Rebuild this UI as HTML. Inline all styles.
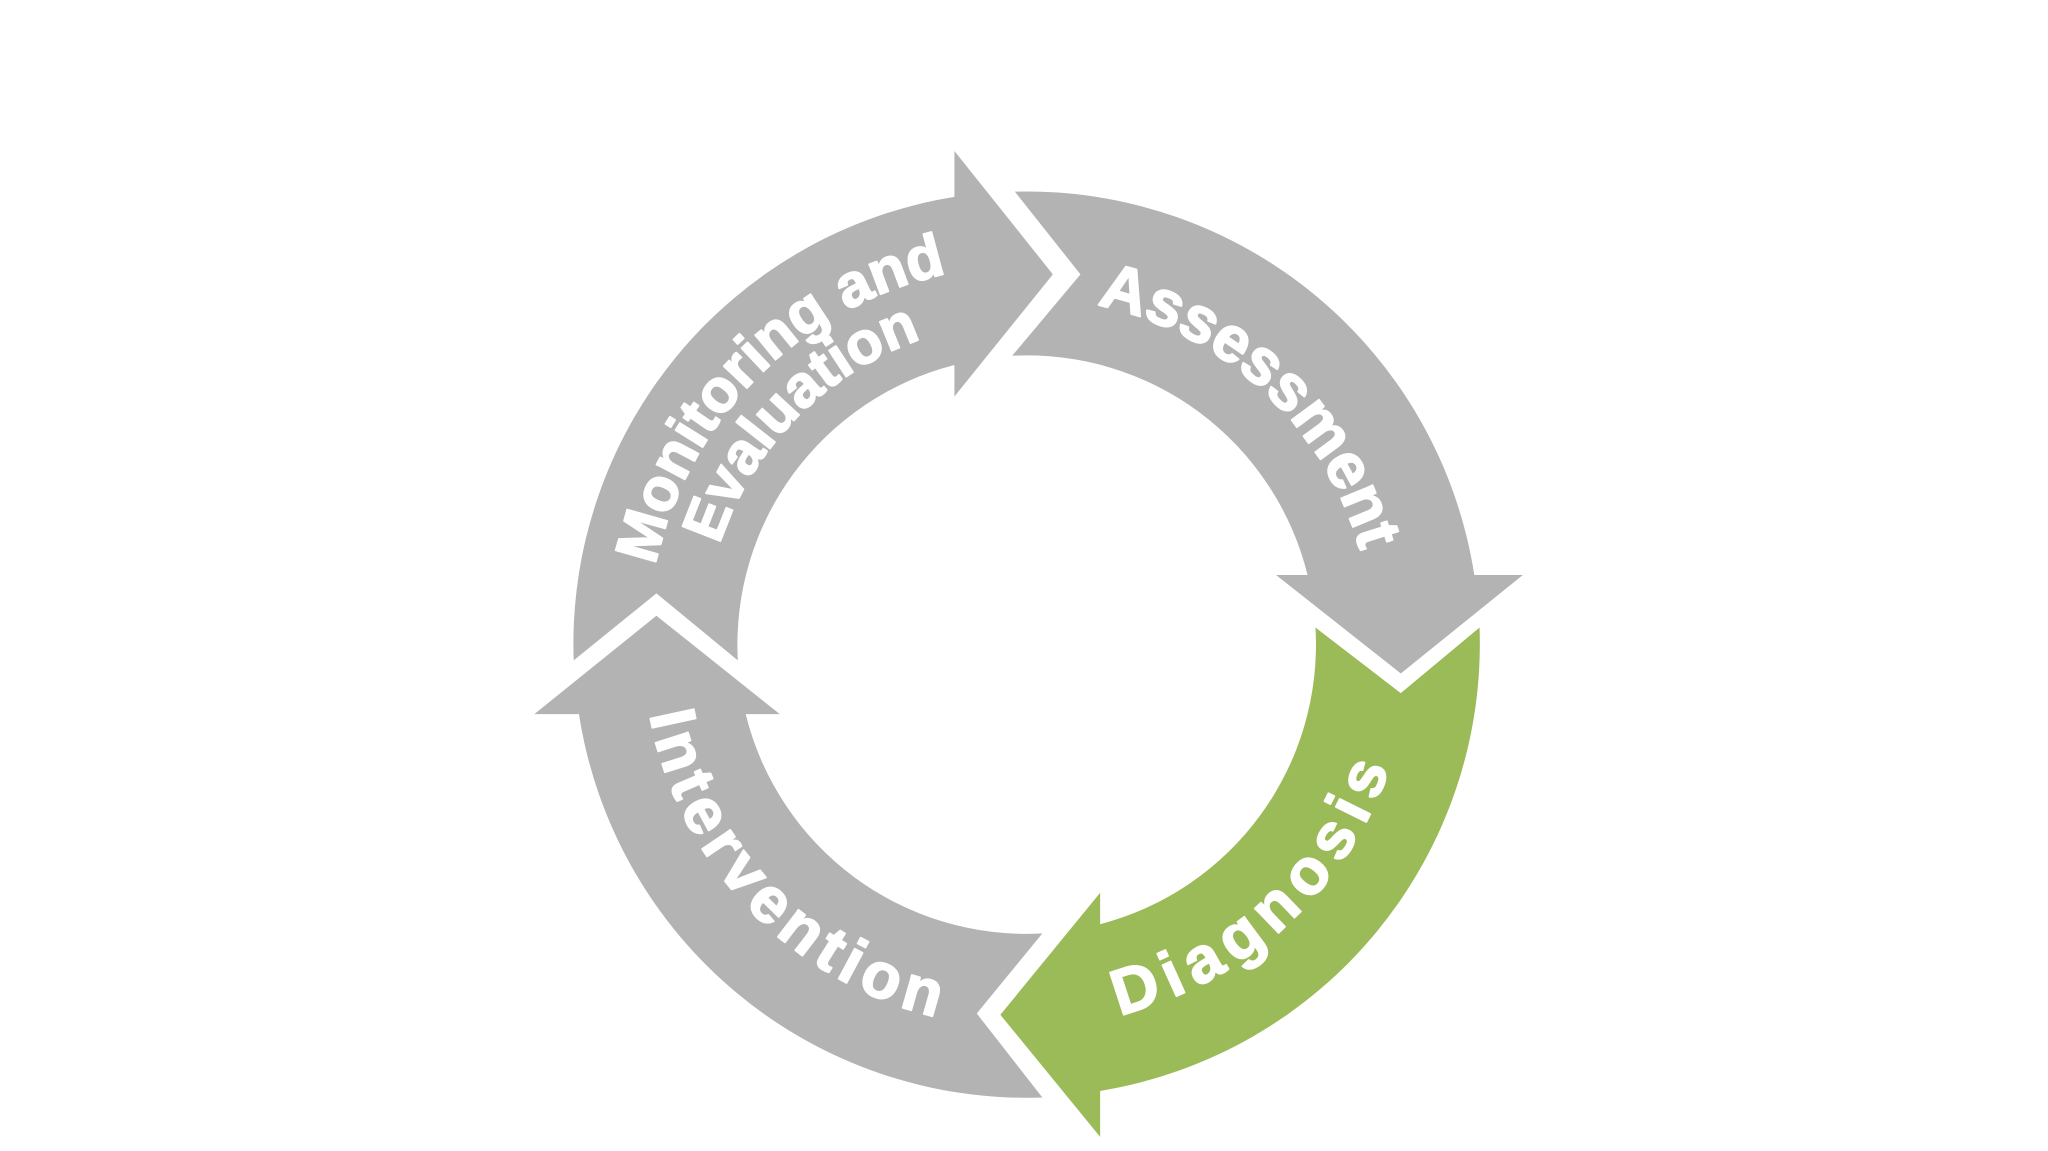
<!DOCTYPE html>
<html><head><meta charset="utf-8"><style>
html,body{margin:0;padding:0;background:#fff;}
svg{display:block;}
</style></head><body>
<svg width="2048" height="1151" viewBox="0 0 1560 876.75" preserveAspectRatio="none" xmlns="http://www.w3.org/2000/svg">
<defs>
<path id="pA" d="M835.5,232.5 A264,264 0 0 1 1039.2,431.6"/>
<path id="pD" d="M852.7,773.2 A292,292 0 0 0 1062.7,571.5"/>
<path id="pI" d="M494.9,544.3 A292,292 0 0 0 723.8,777.1"/>
<path id="pM1" d="M499.3,430.9 A289,289 0 0 1 731.8,206.4"/>
<path id="pM2" d="M548.0,415.0 A246,246 0 0 1 706.0,257.0"/>
</defs>
<path fill="#b3b3b3" d="M437,503 A345,345 0 0 1 727,150 L727,115 L802,209 L727,302 L727,278 A220,220 0 0 0 562,503 L500,452 Z"/>
<path fill="#b3b3b3" d="M773,146 A345,345 0 0 1 1123,438 L1160,438 L1067,513 L972,438 L996,438 A220,220 0 0 0 771,271 L823,209 Z"/>
<path fill="#9bbb59" d="M1002,478 L1067,528 L1127,478 A345,345 0 0 1 838,831 L838,866 L762,773 L838,680 L838,704 A220,220 0 0 0 1002,478 Z"/>
<path fill="#b3b3b3" d="M794,711 L744,772 L794,836 A345,345 0 0 1 441,544 L407,544 L500,469 L594,544 L568,544 A220,220 0 0 0 794,711 Z"/>
<g font-family="Liberation Sans, Arial, sans-serif" font-weight="700" fill="#ffffff" stroke="#ffffff" stroke-width="1.4" stroke-linejoin="round">
<text font-size="49" letter-spacing="0"><textPath href="#pA">Assessment</textPath></text>
<text font-size="49" letter-spacing="7"><textPath href="#pD">Diagnosis</textPath></text>
<text font-size="49" letter-spacing="5"><textPath href="#pI">Intervention</textPath></text>
<text font-size="46" letter-spacing="0"><textPath href="#pM1">Monitoring and</textPath></text>
<text font-size="45" letter-spacing="0"><textPath href="#pM2">Evaluation</textPath></text>
</g>
</svg>
</body></html>
